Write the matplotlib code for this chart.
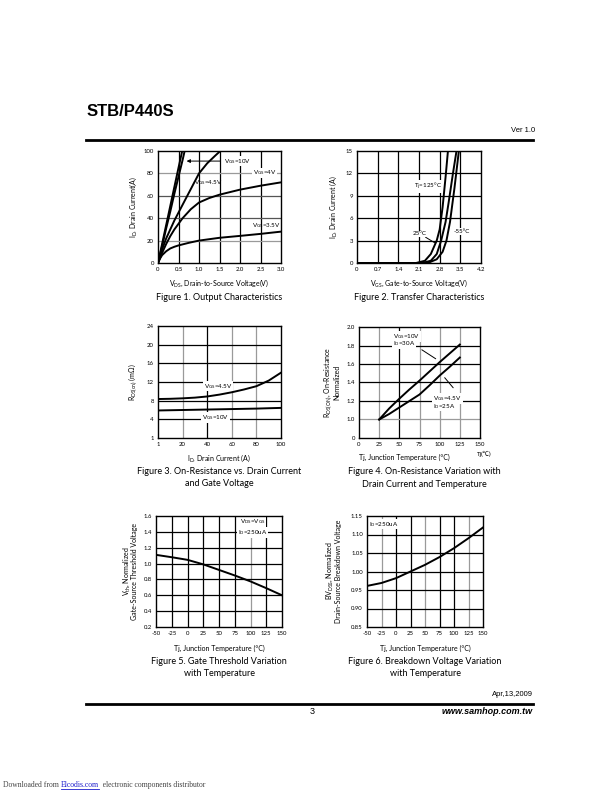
import matplotlib
matplotlib.use("Agg")
import matplotlib.pyplot as plt
from matplotlib.lines import Line2D

W, H = 612, 792
LAB = "Lato"
plt.rcParams['font.family'] = [LAB, 'DejaVu Sans']
plt.rcParams['mathtext.default'] = 'regular'
plt.rcParams['axes.unicode_minus'] = False

# ---------------- data ----------------
# Fig 1: Output characteristics
f1_vds_a = [0, 0.1, 0.2, 0.3, 0.4, 0.5, 0.59]
f1_id_a = [0, 17, 34, 51, 68, 85, 100]
f1_vds_b = [0, 0.1, 0.2, 0.3, 0.4, 0.5, 0.6, 0.65]
f1_id_b = [0, 15, 31, 46, 62, 77, 92, 100]
f1_vds_45 = [0, 0.1, 0.2, 0.3, 0.4, 0.5, 0.6, 0.8, 1.0, 1.2, 1.4, 1.52]
f1_id_45 = [0, 12, 22, 30, 38, 45, 52, 66, 80, 89, 96, 100]
f1_vds_4 = [0, 0.1, 0.2, 0.3, 0.4, 0.5, 0.6, 0.8, 1.0, 1.25, 1.5, 2.0, 2.5, 3.0]
f1_id_4 = [0, 9, 17, 24, 30, 35, 40, 48, 54, 58, 61, 65.5, 69, 72]
f1_vds_35 = [0, 0.05, 0.1, 0.2, 0.3, 0.4, 0.5, 0.75, 1.0, 1.5, 2.0, 2.5, 3.0]
f1_id_35 = [0, 4, 7, 10.5, 13, 14.5, 15.7, 18, 20, 22.5, 24.2, 26, 28]

# Fig 2: Transfer characteristics
f2_vgs_125 = [0, 2.0, 2.3, 2.5, 2.7, 2.8, 2.9, 3.0, 3.08]
f2_id_125 = [0, 0, 0.3, 1.2, 3.0, 4.5, 7.5, 11.5, 15]
f2_vgs_25 = [0, 2.2, 2.5, 2.7, 2.85, 3.0, 3.1, 3.25, 3.37]
f2_id_25 = [0, 0, 0.3, 1.2, 3.0, 5.5, 8.0, 12.0, 15]
f2_vgs_m55 = [0, 2.4, 2.7, 2.9, 3.03, 3.15, 3.3, 3.45]
f2_id_m55 = [0, 0, 0.5, 1.5, 3.0, 5.5, 10.0, 15]

# Fig 3: On-resistance vs drain current
f3_id = [0, 10, 20, 30, 40, 50, 60, 70, 80, 90, 100]
f3_r45 = [8.35, 8.4, 8.5, 8.65, 8.9, 9.3, 9.8, 10.4, 11.1, 12.3, 14.0]
f3_r10 = [5.9, 5.95, 6.0, 6.05, 6.1, 6.15, 6.2, 6.25, 6.3, 6.38, 6.45]

# Fig 4: On-resistance vs temperature
f4_t = [25, 37.5, 50, 62.5, 75, 87.5, 100, 112.5, 125]
f4_r10 = [1.0, 1.12, 1.225, 1.325, 1.42, 1.52, 1.62, 1.715, 1.81]
f4_r45 = [1.0, 1.06, 1.13, 1.2, 1.27, 1.37, 1.475, 1.57, 1.67]

# Fig 5: Gate threshold vs temperature
f5_t = [-50, -25, 0, 25, 50, 75, 100, 125, 150]
f5_v = [1.11, 1.08, 1.047, 0.99, 0.92, 0.85, 0.775, 0.69, 0.60]

# Fig 6: Breakdown voltage vs temperature
f6_t = [-50, -25, 0, 25, 50, 75, 100, 125, 150]
f6_v = [0.961, 0.969, 0.982, 1.0, 1.018, 1.039, 1.063, 1.09, 1.119]

fig = plt.figure(figsize=(W / 100, H / 100), dpi=100)
fig.patch.set_facecolor('white')


def fx(x):
    return x / W


def fy(y):
    return 1 - y / H


def make_ax(l, t, r, b):
    ax = fig.add_axes([fx(l), fy(b), (r - l) / W, (b - t) / H])
    for s in ax.spines.values():
        s.set_linewidth(1.0)
        s.set_zorder(5)
    ax.tick_params(length=0, labelsize=4.3, pad=3)
    return ax


def grid(ax, xs, ys, xcol, ycol):
    for x, c in zip(xs, xcol):
        ax.axvline(x, color=c, lw=0.9, zorder=1)
    for y, c in zip(ys, ycol):
        ax.axhline(y, color=c, lw=0.9, zorder=1)


def ftext(x, y, s, size=5, **kw):
    return fig.text(fx(x), fy(y), s, fontsize=size, ha=kw.pop('ha', 'center'),
                    va=kw.pop('va', 'center'), **kw)


LW = 1.4
BOX = dict(facecolor='white', edgecolor='none', pad=0.6)
G = '#9a9a9a'
K = 'black'

# ---------------- Figure 1 ----------------
ax = make_ax(158, 151, 281, 263)
ax.set_xlim(0, 3.0)
ax.set_ylim(0, 100)
ax.set_xticks([0, 0.5, 1.0, 1.5, 2.0, 2.5, 3.0])
ax.set_xticklabels(['0', '0.5', '1.0', '1.5', '2.0', '2.5', '3.0'])
ax.set_yticks([0, 20, 40, 60, 80, 100])
grid(ax, [0.5, 1.0, 1.5, 2.0, 2.5], [20, 40, 60, 80], [K] * 5, [G, '#555555', '#555555', G])
for xs, ys in [(f1_vds_a, f1_id_a), (f1_vds_b, f1_id_b), (f1_vds_45, f1_id_45),
               (f1_vds_4, f1_id_4), (f1_vds_35, f1_id_35)]:
    ax.plot(xs, ys, color='black', lw=LW, zorder=3, clip_on=True)
ax.annotate(r"V$_{GS}$=10V", xy=(0.63, 91), xytext=(1.6, 91), fontsize=4.5,
            va='center', ha='left', bbox=BOX, zorder=4,
            arrowprops=dict(arrowstyle='-|>', color='black', lw=0.7, mutation_scale=5))
ax.text(2.32, 80.5, r"V$_{GS}$=4V", fontsize=4.5, va='center', ha='left', bbox=BOX, zorder=4)
ax.text(0.88, 71.5, r"V$_{GS}$=4.5V", fontsize=4.5, va='center', ha='left', zorder=4)
ax.text(2.3, 33, r"V$_{GS}$=3.5V", fontsize=4.5, va='center', ha='left', zorder=4)
ftext(133, 207, r"I$_{D}$, Drain Current(A)", 5, rotation=90)
ftext(219, 283, r"V$_{DS}$, Drain-to-Source Voltage(V)", 5)
ftext(219, 297, "Figure 1. Output Characteristics", 6.5)

# ---------------- Figure 2 ----------------
ax = make_ax(357, 151, 481, 263)
ax.set_xlim(0, 4.2)
ax.set_ylim(0, 15)
ax.set_xticks([0, 0.7, 1.4, 2.1, 2.8, 3.5, 4.2])
ax.set_xticklabels(['0', '0.7', '1.4', '2.1', '2.8', '3.5', '4.2'])
ax.set_yticks([0, 3, 6, 9, 12, 15])
grid(ax, [0.7, 1.4, 2.1, 2.8, 3.5], [3, 6, 9, 12], [K] * 5, [K] * 4)
for xs, ys in [(f2_vgs_125, f2_id_125), (f2_vgs_25, f2_id_25), (f2_vgs_m55, f2_id_m55)]:
    ax.plot(xs, ys, color='black', lw=LW, zorder=3)
ax.text(1.92, 10.3, r"T$_{j}$=125°C", fontsize=4.5, va='center', ha='left', bbox=BOX, zorder=4)
ax.annotate("25°C", xy=(2.72, 2.5), xytext=(1.9, 3.9), fontsize=4.5, va='center', ha='left',
            bbox=BOX, zorder=4,
            arrowprops=dict(arrowstyle='-', color='black', lw=0.7, shrinkA=0))
ax.text(3.27, 4.2, "-55°C", fontsize=4.5, va='center', ha='left', bbox=BOX, zorder=4)
ftext(333, 207, r"I$_{D}$, Drain Current (A)", 5, rotation=90)
ftext(419, 283, r"V$_{GS}$, Gate-to-Source Voltage(V)", 5)
ftext(419, 297, "Figure 2. Transfer Characteristics", 6.5)

# ---------------- Figure 3 ----------------
ax = make_ax(158, 326, 281, 438)
ax.set_xlim(0, 100)
ax.set_ylim(0, 24)
ax.set_xticks([0, 20, 40, 60, 80, 100])
ax.set_xticklabels(['1', '20', '40', '60', '80', '100'])
ax.set_yticks([0, 4, 8, 12, 16, 20, 24])
ax.set_yticklabels(['1', '4', '8', '12', '16', '20', '24'])
grid(ax, [20, 40, 60, 80], [4, 8, 12, 16, 20], [G, K, G, G], [K] * 5)
ax.plot(f3_id, f3_r45, color='black', lw=LW, zorder=3)
ax.plot(f3_id, f3_r10, color='black', lw=LW, zorder=3)
ax.text(37, 11.1, r"V$_{GS}$=4.5V", fontsize=4.5, va='center', ha='left', bbox=BOX, zorder=4)
ax.text(36, 4.4, r"V$_{GS}$=10V", fontsize=4.5, va='center', ha='left', bbox=BOX, zorder=4)
ftext(133, 382, r"R$_{DS(on)}$ (m$\Omega$)", 5, rotation=90)
ftext(219, 458, r"I$_{D}$, Drain Current (A)", 5)
ftext(219, 471, "Figure 3. On-Resistance vs. Drain Current", 6.5)
ftext(219, 483, "and Gate Voltage", 6.5)

# ---------------- Figure 4 ----------------
ax = make_ax(359, 327, 480, 438)
ax.set_xlim(0, 150)
ax.set_ylim(0.8, 2.0)
ax.set_xticks([0, 25, 50, 75, 100, 125, 150])
ax.set_yticks([0.8, 1.0, 1.2, 1.4, 1.6, 1.8, 2.0])
ax.set_yticklabels(['0', '1.0', '1.2', '1.4', '1.6', '1.8', '2.0'])
grid(ax, [25, 50, 75, 100, 125], [1.0, 1.2, 1.4, 1.6, 1.8], [G, K, G, G, G], [G, K, K, K, K])
ax.plot(f4_t, f4_r10, color='black', lw=LW, zorder=3)
ax.plot(f4_t, f4_r45, color='black', lw=LW, zorder=3)
ax.text(42, 1.90, r"V$_{GS}$=10V", fontsize=4.5, va='center', ha='left', bbox=BOX, zorder=4)
ax.text(42, 1.82, r"I$_{D}$=30A", fontsize=4.5, va='center', ha='left', bbox=BOX, zorder=4)
ax.annotate("", xy=(98, 1.64), xytext=(75, 1.77),
            arrowprops=dict(arrowstyle='-', color='black', lw=0.7), zorder=4)
ax.text(92, 1.225, r"V$_{GS}$=4.5V", fontsize=4.5, va='center', ha='left', bbox=BOX, zorder=4)
ax.text(92, 1.145, r"I$_{D}$=25A", fontsize=4.5, va='center', ha='left', bbox=BOX, zorder=4)
ax.annotate("", xy=(104, 1.475), xytext=(119, 1.32),
            arrowprops=dict(arrowstyle='-', color='black', lw=0.7), zorder=4)
ftext(328, 382, r"R$_{DS(ON)}$, On-Resistance", 5, rotation=90)
ftext(337, 382, "Normalized", 5, rotation=90)
ftext(404, 457, "Tj, Junction Temperature (°C)", 5)
ftext(484, 454, "Tj(℃)", 4.5, family=[LAB, 'Noto Sans CJK SC', 'DejaVu Sans'])
ftext(424, 472, "Figure 4. On-Resistance Variation with", 6.5)
ftext(424, 484, "Drain Current and Temperature", 6.5)

# ---------------- Figure 5 ----------------
ax = make_ax(156, 516, 282, 627)
ax.set_xlim(-50, 150)
ax.set_ylim(0.2, 1.6)
ax.set_xticks([-50, -25, 0, 25, 50, 75, 100, 125, 150])
ax.set_yticks([0.2, 0.4, 0.6, 0.8, 1.0, 1.2, 1.4, 1.6])
grid(ax, [-25, 0, 25, 50, 75, 100, 125], [0.4, 0.6, 0.8, 1.0, 1.2, 1.4],
     [K, K, K, K, K, G, K], [K] * 6)
ax.plot(f5_t, f5_v, color='black', lw=LW, zorder=3)
ax.text(103, 1.53, r"V$_{DS}$=V$_{GS}$", fontsize=4.5, va='center', ha='center', bbox=BOX, zorder=4)
ax.text(103, 1.39, r"I$_{D}$=250uA", fontsize=4.5, va='center', ha='center', bbox=BOX, zorder=4)
ftext(127, 571, r"V$_{th}$, Normalized", 5, rotation=90)
ftext(135, 571, "Gate-Source Threshold Voltage", 5, rotation=90)
ftext(219, 648, "Tj, Junction Temperature (°C)", 5)
ftext(219, 662, "Figure 5. Gate Threshold Variation", 6.5)
ftext(219, 674, "with Temperature", 6.5)

# ---------------- Figure 6 ----------------
ax = make_ax(367, 516, 483, 627)
ax.set_xlim(-50, 150)
ax.set_ylim(0.85, 1.15)
ax.set_xticks([-50, -25, 0, 25, 50, 75, 100, 125, 150])
ax.set_yticks([0.85, 0.90, 0.95, 1.00, 1.05, 1.10, 1.15])
ax.set_yticklabels(['0.85', '0.90', '0.95', '1.00', '1.05', '1.10', '1.15'])
grid(ax, [-25, 0, 25, 50, 75, 100, 125], [0.90, 0.95, 1.00, 1.05, 1.10],
     [G, K, K, G, K, K, G], [K] * 5)
ax.plot(f6_t, f6_v, color='black', lw=LW, zorder=3)
ax.text(-46, 1.128, r"I$_{D}$=250uA", fontsize=4.5, va='center', ha='left', bbox=BOX, zorder=4)
ftext(330, 571, r"BV$_{DSS}$, Normalized", 5, rotation=90)
ftext(338, 571, "Drain-Source Breakdown Voltage", 5, rotation=90)
ftext(425, 648, "Tj, Junction Temperature (°C)", 5)
ftext(425, 662, "Figure 6. Breakdown Voltage Variation", 6.5)
ftext(425, 674, "with Temperature", 6.5)

# ---------------- header / footer ----------------
ftext(87, 112, "STB/P440S", 12, ha='left', weight='bold', family='Liberation Sans')
ftext(535, 130, "Ver 1.0", 5.5, ha='right', family='Liberation Sans')
fig.add_artist(Line2D([fx(86), fx(533)], [fy(140), fy(140)], lw=2.0, color='black'))

ftext(533, 695, "Apr,13,2009", 5.5, ha='right', family='Liberation Sans')
fig.add_artist(Line2D([fx(86), fx(533)], [fy(704), fy(704)], lw=2.0, color='black'))
ftext(312, 712, "3", 6.5, family='Liberation Sans')
ftext(533, 712, "www.samhop.com.tw", 6.5, ha='right', weight='bold', style='italic',
      family='Liberation Sans')

# bottom attribution line, pieces chained by measured width
renderer = fig.canvas.get_renderer()
x0 = 3
pieces = [("Downloaded from ", '#444444'), ("Elcodis.com", '#1a1acc'),
          ("  electronic components distributor", '#444444')]
for s, c in pieces:
    t = ftext(x0, 785, s, 5.5, ha='left', family='Liberation Serif', color=c)
    bb = t.get_window_extent(renderer)
    if c == '#1a1acc':
        fig.add_artist(Line2D([fx(x0), fx(x0 + bb.width)], [fy(788.5), fy(788.5)],
                              lw=0.6, color=c))
    x0 += bb.width

fig.savefig("out.png", dpi=100, facecolor='white')
